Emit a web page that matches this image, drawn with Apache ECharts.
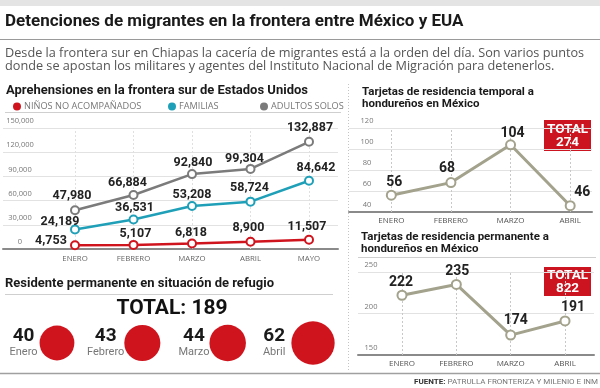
<!DOCTYPE html>
<html><head><meta charset="utf-8">
<script src="https://cdn.jsdelivr.net/npm/echarts@6/dist/echarts.min.js"></script>
<style>html,body{margin:0;padding:0;background:#fff}#c{width:600px;height:388px}</style>
</head><body><div id="c"></div>
<script>
// ---- data ----
const months5 = ['ENERO','FEBRERO','MARZO','ABRIL','MAYO'];
const ninos = [4753, 5107, 6818, 8900, 11507];
const familias = [24189, 36531, 53208, 58724, 84642];
const adultos = [47980, 66884, 92840, 99304, 132887];
const months4 = ['ENERO','FEBRERO','MARZO','ABRIL'];
const temporal = [56, 68, 104, 46];
const permanente = [222, 235, 174, 191];
const refugioMonths = ['Enero','Febrero','Marzo','Abril'];
const refugio = [40, 43, 44, 62];
const seriesNames = ['NIÑOS NO ACOMPAÑADOS','FAMILIAS','ADULTOS SOLOS'];

// ---- style ----
const HEAD = '"Liberation Sans Narrow","Roboto",sans-serif';
const BODY = '"Roboto",sans-serif';
const SMALL = '"Open Sans",sans-serif';
const RED = '#d0141e', TEAL = '#1fa0b8', GRAY = '#7b7b7b', OLIVE = '#a3a28c';
const ninosOff = [[-24,-4],[2,-11],[-1,-11],[-2,-14],[-2,-13]];
const familiasOff = [[-15,-8],[1,-12],[0,-11],[-1,-14],[7,-13]];
const adultosOff = [[-3,-14],[-6,-12],[1,-11],[-6,-10],[1,-14]];
const temporalOff = [[3,-13],[-4,-14],[2,-11],[12,-13]];
const permanenteOff = [[-1,-13],[1,-13],[5,-15],[8,-13]];
const refugioGap = [2, 0, 0, 6];

const sum = a => a.reduce((s, v) => s + v, 0);
const fmt = v => String(v).replace(/\B(?=(\d{3})+(?!\d))/g, ',');

function withLabels(vals, offs) {
  return vals.map((v, i) => ({ value: v, label: { offset: offs[i] } }));
}
function lineSeries(name, vals, offs, color, xi, yi, fs, lw, ss, fmtFn, mark, cats) {
  const s = {
    name, type: 'line', xAxisIndex: xi, yAxisIndex: yi,
    data: withLabels(vals, offs),
    symbol: 'emptyCircle', symbolSize: ss,
    lineStyle: { color, width: lw },
    itemStyle: { color, borderColor: color, borderWidth: 2 },
    label: { show: true, position: 'inside', align: 'center', verticalAlign: 'middle',
      fontFamily: BODY, fontWeight: 'bold', fontSize: fs, color: '#222',
      formatter: p => fmtFn(p.value) },
    z: 5
  };
  if (mark) {
    s.markLine = { silent: true, symbol: ['none','none'], label: { show: false },
      lineStyle: { type: [2, 2], color: mark, width: 1 }, z: 1,
      data: cats.map(m => ({ xAxis: m })) };
  }
  return s;
}
const decoX = (gi) => ({ type: 'value', gridIndex: gi, min: 0, max: 1, show: true,
  axisLine: { show: true, lineStyle: { color: '#8a8a8a', width: 2 } },
  axisTick: { show: false }, axisLabel: { show: false }, splitLine: { show: false } });
const catX = (gi, data, margin, fs, col) => ({ type: 'category', gridIndex: gi, data, boundaryGap: true,
  axisLine: { show: false }, axisTick: { show: false },
  axisLabel: { margin, fontSize: fs, color: col, fontFamily: SMALL }, splitLine: { show: false } });
const decoY = (gi, min, max, interval, margin, fmtFn) => ({ type: 'value', gridIndex: gi, min, max, interval,
  axisLine: { show: false }, axisTick: { show: false },
  axisLabel: { inside: true, align: 'center', verticalAlign: 'bottom', margin, padding: [0,0,3,0],
    fontSize: 7.5, color: '#777', fontFamily: SMALL, formatter: fmtFn },
  splitLine: { lineStyle: { color: '#e2e2e2', width: 1 } } });
const hidY = (gi, min, max) => ({ type: 'value', gridIndex: gi, min, max, show: false, splitLine: { show: false } });

const txt = (x, y, text, font, fill, align) => ({ type: 'text', x, y, silent: true,
  style: { text, font, fill, align: align || 'left', verticalAlign: 'middle' } });
const hline = (x1, x2, y, stroke, w, dash) => ({ type: 'line', silent: true,
  shape: { x1, y1: y, x2, y2: y }, style: { stroke, lineWidth: w || 1, lineDash: dash } });

function totalBox(x, y, w, h, value) {
  return [
    { type: 'rect', silent: true, shape: { x, y, width: w, height: h }, style: { fill: '#cc1421' } },
    txt(x + w / 2, y + h * 0.3, 'TOTAL', 'bold 13.5px ' + HEAD, '#fff', 'center'),
    txt(x + w / 2, y + h * 0.74, String(value), 'bold 13.5px ' + HEAD, '#fff', 'center')
  ];
}

const chart = echarts.init(document.getElementById('c'), null, { renderer: 'canvas' });
chart.setOption({
  animation: false,
  backgroundColor: '#fff',
  legend: [
    { data: [seriesNames[0]], left: 8, top: 97 },
    { data: [seriesNames[1]], left: 163, top: 97 },
    { data: [seriesNames[2]], left: 255, top: 97 }
  ].map(l => Object.assign(l, { icon: 'circle', itemWidth: 6, itemHeight: 6, itemGap: 4,
    textStyle: { fontSize: 9.2, color: '#777', fontFamily: SMALL, padding: [0,0,0,-1] }, selectedMode: false })),
  grid: [
    { left: 3, right: 262, top: 128, bottom: 139 },
    { left: 45.75, right: 261.75, top: 128, bottom: 139 },
    { left: 349, right: 8, top: 128, bottom: 176 },
    { left: 361.5, width: 244, top: 128, bottom: 176 },
    { left: 358, right: 6, top: 272, bottom: 33 },
    { left: 374.8, width: 217.4, top: 272, bottom: 33 },
    { left: 14.3, width: 341.4, top: 326, height: 34 }
  ],
  xAxis: [
    decoX(0), catX(1, months5, 6, 7.8, '#666'),
    decoX(2), catX(3, months4, 5, 8, '#555'),
    decoX(4), catX(5, months4, 5, 8, '#555'),
    { type: 'category', gridIndex: 6, data: refugioMonths, show: false }
  ],
  yAxis: [
    decoY(0, 0, 150000, 30000, 17, v => fmt(v)), hidY(1, 0, 150000),
    decoY(2, 40, 120, 20, 18), hidY(3, 40, 120),
    decoY(4, 150, 250, 50, 13), hidY(5, 150, 250),
    hidY(6, 0, 1)
  ],
  series: [
    lineSeries(seriesNames[2], adultos, adultosOff, GRAY, 1, 1, 12.5, 2.5, 8, fmt, '#e0e0e0', months5),
    lineSeries(seriesNames[1], familias, familiasOff, TEAL, 1, 1, 12.5, 2.5, 8, fmt),
    lineSeries(seriesNames[0], ninos, ninosOff, RED, 1, 1, 12.5, 2.5, 8, fmt),
    lineSeries('temporal', temporal, temporalOff, OLIVE, 3, 3, 14, 3, 9, v => v, '#c8c8c8', months4),
    lineSeries('permanente', permanente, permanenteOff, OLIVE, 5, 5, 14, 3, 9, v => v, '#c8c8c8', months4),
    {
      type: 'scatter', xAxisIndex: 6, yAxisIndex: 6,
      data: refugio.map((v, i) => ({ value: [refugioMonths[i], 0.5], label: { distance: refugioGap[i] } })),
      symbolSize: (val, p) => 5.5 * Math.sqrt(refugio[p.dataIndex]),
      itemStyle: { color: RED, opacity: 1 },
      label: { show: true, position: 'left', distance: 2,
        formatter: p => '{n|' + refugio[p.dataIndex] + '}\n{m|' + refugioMonths[p.dataIndex] + '}',
        rich: {
          n: { fontFamily: BODY, fontWeight: 'bold', fontSize: 19, color: '#1a1a1a', align: 'center', lineHeight: 19 },
          m: { fontFamily: BODY, fontSize: 11, color: '#777', align: 'center', lineHeight: 14 }
        } }
    }
  ],
  graphic: [
    { type: 'rect', silent: true, shape: { x: 0, y: 0, width: 600, height: 6 }, style: { fill: '#e4e4e4' } },
    txt(5, 22, 'Detenciones de migrantes en la frontera entre México y EUA', 'bold 17px ' + HEAD, '#1a1a1a'),
    hline(0, 600, 39.5, '#9a9a9a', 1),
    txt(5, 53, 'Desde la frontera sur en Chiapas la cacería de migrantes está a la orden del día. Son varios puntos', '12.7px ' + SMALL, '#555'),
    txt(5, 66, 'donde se apostan los militares y agentes del Instituto Nacional de Migración para detenerlos.', '12.7px ' + SMALL, '#555'),
    txt(6, 91, 'Aprehensiones en la frontera sur de Estados Unidos', 'bold 13px ' + HEAD, '#1a1a1a'),
    hline(5, 341, 112.5, '#cfcfcf', 1),
    { type: 'line', silent: true, shape: { x1: 348.5, y1: 84, x2: 348.5, y2: 372 }, style: { stroke: '#c4c4c4', lineWidth: 1, lineDash: [1, 2] } },
    txt(362, 92, 'Tarjetas de residencia temporal a', 'bold 11.5px ' + HEAD, '#1a1a1a'),
    txt(362, 104, 'hondureños en México', 'bold 11.5px ' + HEAD, '#1a1a1a'),
    txt(361, 237, 'Tarjetas de residencia permanente a', 'bold 11.5px ' + HEAD, '#1a1a1a'),
    txt(361, 249, 'hondureños en México', 'bold 11.5px ' + HEAD, '#1a1a1a'),
    hline(358, 596, 257.5, '#cfcfcf', 1),
    ...totalBox(544, 120, 47, 31, sum(temporal)),
    ...totalBox(544, 267, 47, 29, sum(permanente)),
    txt(5, 284, 'Residente permanente en situación de refugio', 'bold 13px ' + HEAD, '#1a1a1a'),
    hline(5, 333, 294.5, '#cfcfcf', 1),
    txt(172, 309, 'TOTAL: ' + sum(refugio), 'bold 21px ' + HEAD, '#111', 'center'),
    hline(0, 600, 373.5, '#a0a0a0', 1.5),
    { type: 'text', x: 598, y: 382, silent: true,
      style: { text: '{b|FUENTE:} PATRULLA FRONTERIZA Y MILENIO E INM', align: 'right', verticalAlign: 'middle',
        font: '8px ' + BODY, fill: '#777',
        rich: { b: { fontWeight: 'bold', fontSize: 8, fontFamily: BODY, fill: '#333' } } } }
  ]
});
</script></body></html>
